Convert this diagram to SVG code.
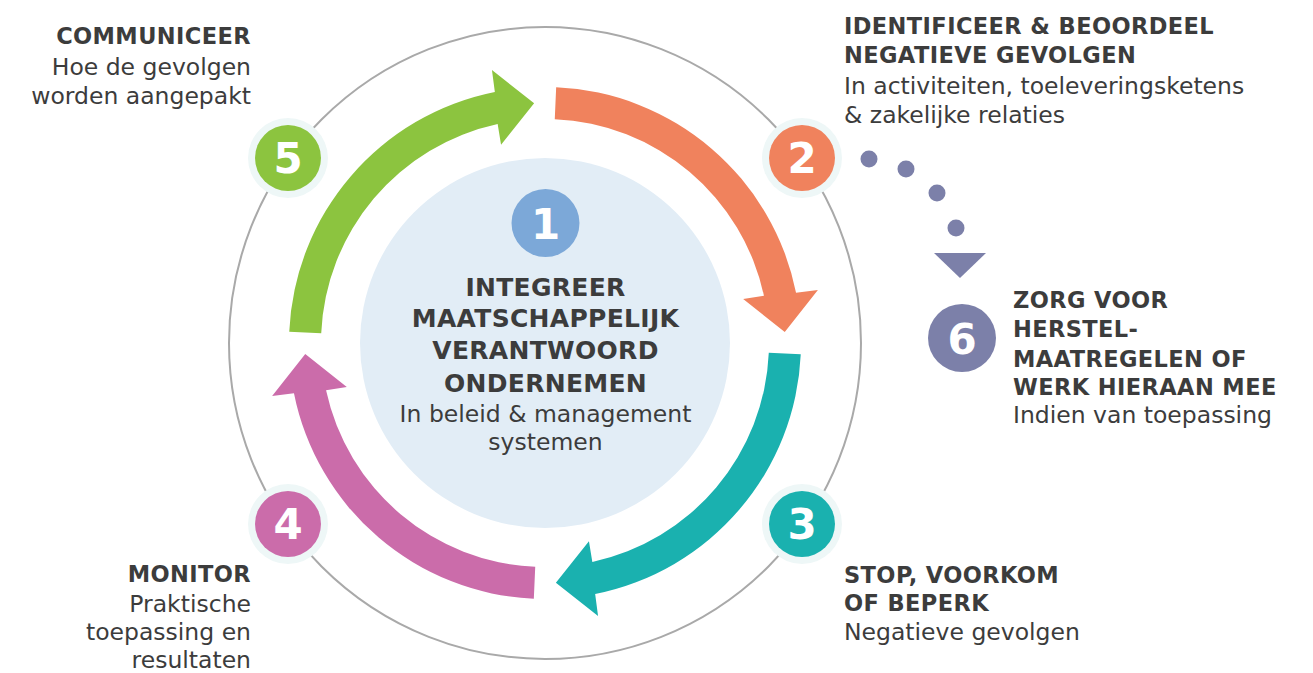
<svg xmlns="http://www.w3.org/2000/svg" width="1313" height="673" viewBox="0 0 1313 673">
<style>
.t{font-family:"DejaVu Sans","Liberation Sans",sans-serif;fill:#3c3c3c}
.b{font-weight:bold;font-size:22.5px;letter-spacing:0.4px}
.r{font-size:23.5px}
.cb{font-weight:bold;font-size:25px;letter-spacing:0.3px}
.num{font-family:"DejaVu Sans","Liberation Sans",sans-serif;font-weight:bold;font-size:42px;fill:#fff;text-anchor:middle}
.halo{fill:#eef7f7}
</style>
<defs>
<path id="arr" d="M 11.17 -255.76 A 256 256 0 0 1 251.04 -50.16 L 272.89 -53.05 L 239.75 -10.89 L 198.19 -43.94 L 218.94 -47.34 A 224 224 0 0 0 9.77 -223.79 Z"/>
</defs>
<rect width="1313" height="673" fill="#fff"/>
<circle cx="545" cy="343" r="316" fill="none" stroke="#a9a9a9" stroke-width="2"/>
<g id="center">
<circle cx="545" cy="343" r="185" fill="#e2edf6"/>
<circle cx="545.5" cy="223" r="34" fill="#7ca8d8"/>
<text class="num" x="545.5" y="239" font-size="44">1</text>
<g class="t" text-anchor="middle">
<text class="cb" x="545.5" y="296">INTEGREER</text>
<text class="cb" x="545.5" y="327">MAATSCHAPPELIJK</text>
<text class="cb" x="545.5" y="359">VERANTWOORD</text>
<text class="cb" x="545.5" y="391.5">ONDERNEMEN</text>
<text class="r" x="545.5" y="421.5">In beleid &amp; management</text>
<text class="r" x="545.5" y="450">systemen</text>
</g>
</g>
<g id="connectors">
<use href="#arr" fill="#f0825d" transform="translate(545,343)"/>
<use href="#arr" fill="#1ab1af" transform="translate(545,343) rotate(90)"/>
<use href="#arr" fill="#cb6caa" transform="translate(545,343) rotate(180)"/>
<use href="#arr" fill="#8cc43f" transform="translate(545,343) rotate(270)"/>
<g fill="#7c80a9">
<circle cx="869" cy="159" r="8.5"/>
<circle cx="906" cy="169" r="8.5"/>
<circle cx="937" cy="193" r="8.5"/>
<circle cx="956" cy="228" r="8.5"/>
<polygon points="934,253 986,253 960,278"/>
</g>
</g>
<g id="step2">
<circle class="halo" cx="802" cy="158" r="40"/>
<circle cx="802" cy="158" r="33" fill="#f0825d"/>
<text class="num" x="802" y="173">2</text>
<g class="t">
<text class="b" x="844" y="34">IDENTIFICEER &amp; BEOORDEEL</text>
<text class="b" x="844" y="63">NEGATIEVE GEVOLGEN</text>
<text class="r" x="844" y="94">In activiteiten, toeleveringsketens</text>
<text class="r" x="844" y="123">&amp; zakelijke relaties</text>
</g>
</g>
<g id="step3">
<circle class="halo" cx="802" cy="524" r="40"/>
<circle cx="802" cy="524" r="33" fill="#1ab1af"/>
<text class="num" x="802" y="539">3</text>
<g class="t">
<text class="b" x="844" y="583">STOP, VOORKOM</text>
<text class="b" x="844" y="611">OF BEPERK</text>
<text class="r" x="844" y="640">Negatieve gevolgen</text>
</g>
</g>
<g id="step4">
<circle class="halo" cx="288" cy="524" r="40"/>
<circle cx="288" cy="524" r="33" fill="#cb6caa"/>
<text class="num" x="288" y="539">4</text>
<g class="t" text-anchor="end">
<text class="b" x="251" y="582">MONITOR</text>
<text class="r" x="251" y="612">Praktische</text>
<text class="r" x="251" y="640">toepassing en</text>
<text class="r" x="251" y="668">resultaten</text>
</g>
</g>
<g id="step5">
<circle class="halo" cx="288" cy="158" r="40"/>
<circle cx="288" cy="158" r="33" fill="#8cc43f"/>
<text class="num" x="288" y="173">5</text>
<g class="t" text-anchor="end">
<text class="b" x="251" y="44">COMMUNICEER</text>
<text class="r" x="251" y="75">Hoe de gevolgen</text>
<text class="r" x="251" y="104">worden aangepakt</text>
</g>
</g>
<g id="step6">
<circle cx="962" cy="338" r="34" fill="#7c80a9"/>
<text class="num" x="962" y="354">6</text>
<g class="t">
<text class="b" x="1013" y="308">ZORG VOOR</text>
<text class="b" x="1013" y="337">HERSTEL-</text>
<text class="b" x="1013" y="367">MAATREGELEN OF</text>
<text class="b" x="1013" y="395">WERK HIERAAN MEE</text>
<text class="r" x="1013" y="423">Indien van toepassing</text>
</g>
</g>
</svg>
